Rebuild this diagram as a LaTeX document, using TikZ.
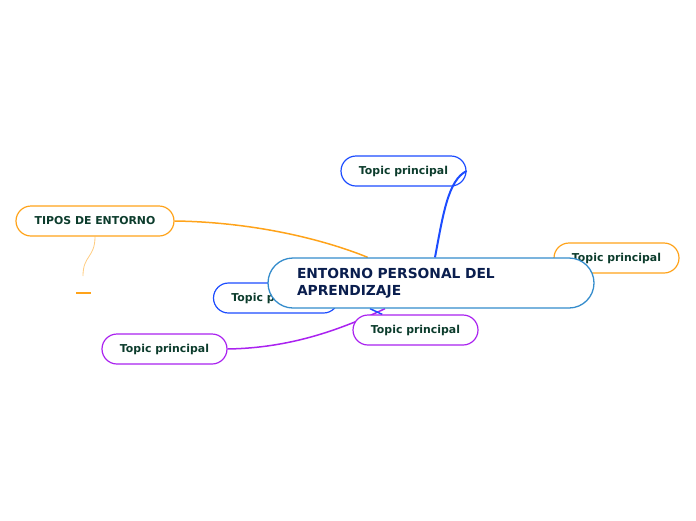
\documentclass[tikz,border=0pt]{standalone}
\usepackage{fontspec}
\setmainfont{DejaVu Sans}
\usetikzlibrary{backgrounds}
\definecolor{BleuCentre}{RGB}{52,140,204}
\definecolor{BleuTopic}{RGB}{28,76,255}
\definecolor{Orange}{RGB}{255,163,26}
\definecolor{OrangeClair}{RGB}{255,204,128}
\definecolor{Violet}{RGB}{170,34,240}
\definecolor{VertTexte}{RGB}{12,60,44}
\definecolor{Marine}{RGB}{10,30,78}
\tikzset{centre/.style={rectangle, rounded corners=25pt, draw=BleuCentre, fill=white,
  line width=1.3pt, minimum height=50pt, text width=268pt, inner xsep=29pt,
  align=left, text=Marine, font=\fontsize{13.8}{17}\selectfont\bfseries}}
\tikzset{topic/.style={rectangle, rounded corners=15pt, draw=BleuTopic, fill=white,
  line width=1.2pt, minimum width=125pt, minimum height=30pt, text=VertTexte,
  font=\fontsize{10.9}{13}\selectfont\bfseries}}
\tikzset{topico/.style={topic, draw=Orange}}
\tikzset{topicv/.style={topic, draw=Violet}}
\tikzset{lien/.style={line width=1.5pt}}
\begin{document}
\begin{tikzpicture}[x=1pt, y=-1pt]
\useasboundingbox (0,0) rectangle (696,520);
\node[topic] (t1) at (403.5,171) {Topic principal};
\node[topico, minimum width=158pt] (tipos) at (95,221) {TIPOS DE ENTORNO};
\node[topico] (t2) at (616.5,258) {Topic principal};
\node[topic] (t3) at (276,298) {Topic principal};
\node[topicv] (t4) at (415.5,330) {Topic principal};
\node[topicv] (t5) at (164.5,349) {Topic principal};
\node[centre] (c) at (431,283) {ENTORNO PERSONAL DEL\\APRENDIZAJE};
\coordinate (vide) at (83,276);
\coordinate (tiret) at (83.5,293);
\begin{scope}[on background layer]
\draw[lien, Orange] (tipos.east) .. controls (250,222) and (320,238) .. (c);
\draw[lien, Violet] (t5.east) .. controls (290,348) and (340,330) .. (c.south -| 385,0);
\draw[lien, BleuTopic] (c.south -| 370,0) -- (t4);
\draw[OrangeClair, line width=0.8pt] (tipos.south) .. controls (95,258) and (83,255) .. (vide);
\end{scope}
\draw[lien, BleuTopic, line width=2pt] (c.north -| 435,0) .. controls (443,215) and (448,180) .. (t1.east);
\draw[Orange, line width=2pt] ([xshift=-7.5pt]tiret) -- ([xshift=7.5pt]tiret);
\end{tikzpicture}
\end{document}
